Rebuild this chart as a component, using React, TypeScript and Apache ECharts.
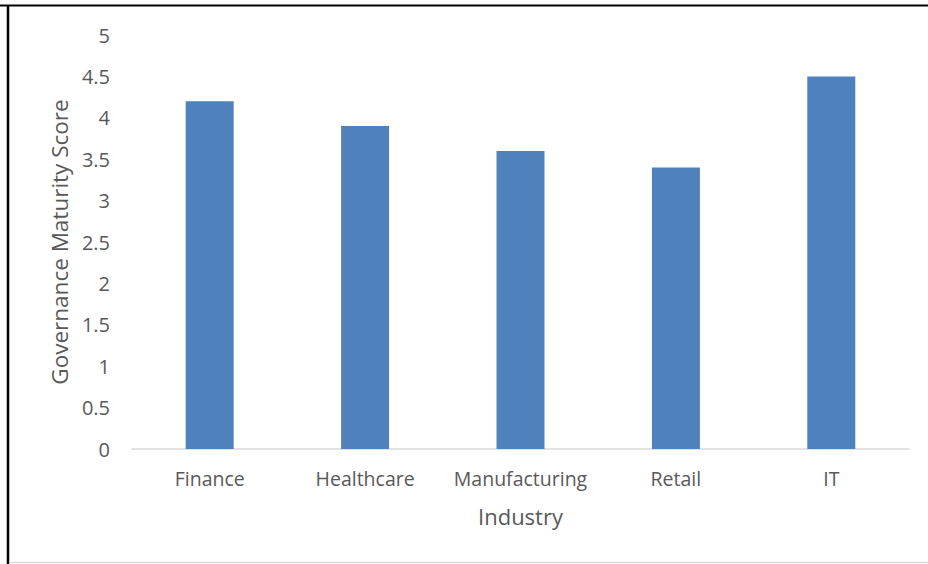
import React, { useEffect, useRef } from "react";
import * as echarts from "echarts";

const categories = ["Finance", "Healthcare", "Manufacturing", "Retail", "IT"];
const scores = [4.2, 3.9, 3.6, 3.4, 4.5];
const xAxisTitle = "Industry";
const yAxisTitle = "Governance Maturity Score";

export default function App() {
  const ref = useRef<HTMLDivElement>(null);
  useEffect(() => {
    if (!ref.current) return;
    const chart = echarts.init(ref.current, null, { renderer: "svg" });
    const font = "'Open Sans', 'Noto Sans', sans-serif";
    chart.setOption({
      animation: false,
      backgroundColor: "#ffffff",
      textStyle: { fontFamily: font },
      grid: { left: 132, right: 19, top: 35, bottom: 115, containLabel: false },
      xAxis: {
        type: "category",
        data: categories,
        name: xAxisTitle,
        nameLocation: "middle",
        nameGap: 56,
        nameTextStyle: { fontSize: 22, color: "#595959", fontFamily: font },
        axisLine: { lineStyle: { color: "#d9d9d9", width: 1.5 } },
        axisTick: { show: false },
        axisLabel: {
          interval: 0,
          hideOverlap: false,
          fontSize: 19.5,
          color: "#595959",
          margin: 19,
          fontFamily: font,
        },
      },
      yAxis: {
        type: "value",
        min: 0,
        max: 5,
        interval: 0.5,
        name: yAxisTitle,
        nameLocation: "middle",
        nameGap: 61,
        nameRotate: 90,
        nameTextStyle: { fontSize: 22.5, color: "#595959", fontFamily: font },
        axisLine: { show: false },
        axisTick: { show: false },
        splitLine: { show: false },
        axisLabel: { fontSize: 20, color: "#595959", margin: 22, fontFamily: font },
      },
      series: [
        {
          type: "bar",
          data: scores,
          barWidth: 48,
          itemStyle: { color: "#4f81bd" },
        },
      ],
      graphic: [
        { type: "line", shape: { x1: 0, y1: 5.5, x2: 928, y2: 5.5 }, style: { stroke: "#000", lineWidth: 2 } },
        { type: "line", shape: { x1: 8, y1: 5, x2: 8, y2: 564 }, style: { stroke: "#000", lineWidth: 2.5 } },
        { type: "line", shape: { x1: 9, y1: 562.5, x2: 928, y2: 562.5 }, style: { stroke: "#d9d9d9", lineWidth: 1.5 } },
      ],
    });
    return () => chart.dispose();
  }, []);
  return (
    <div
      ref={ref}
      style={{ position: "absolute", left: 0, top: 0, width: 928, height: 564 }}
    />
  );
}
